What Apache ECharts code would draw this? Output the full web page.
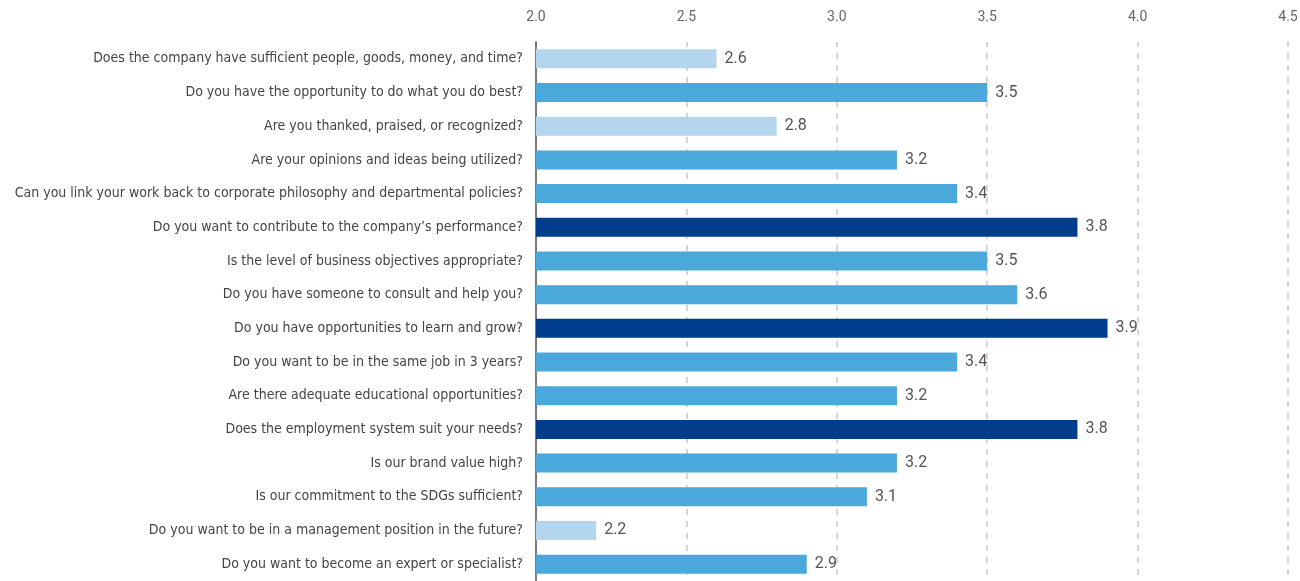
<!DOCTYPE html>
<html>
<head>
<meta charset="utf-8">
<script src="https://cdn.jsdelivr.net/npm/echarts@6/dist/echarts.min.js"></script>
<style>
  html, body { margin: 0; padding: 0; background: #fff; }
  #chart { width: 1300px; height: 581px; }
</style>
</head>
<body>
<div id="chart"></div>
<script>
// Survey questions, top to bottom
const questions = [
  "Does the company have sufficient people, goods, money, and time?",
  "Do you have the opportunity to do what you do best?",
  "Are you thanked, praised, or recognized?",
  "Are your opinions and ideas being utilized?",
  "Can you link your work back to corporate philosophy and departmental policies?",
  "Do you want to contribute to the company\u2019s performance?",
  "Is the level of business objectives appropriate?",
  "Do you have someone to consult and help you?",
  "Do you have opportunities to learn and grow?",
  "Do you want to be in the same job in 3 years?",
  "Are there adequate educational opportunities?",
  "Does the employment system suit your needs?",
  "Is our brand value high?",
  "Is our commitment to the SDGs sufficient?",
  "Do you want to be in a management position in the future?",
  "Do you want to become an expert or specialist?"
];

// Average score per question
const scores = [2.6, 3.5, 2.8, 3.2, 3.4, 3.8, 3.5, 3.6, 3.9, 3.4, 3.2, 3.8, 3.2, 3.1, 2.2, 2.9];

// Rating band per question: 0 = low, 1 = middle, 2 = high
const bands = [0, 1, 0, 1, 1, 2, 1, 1, 2, 1, 1, 2, 1, 1, 0, 1];

const bandColors = ["#b3d5ed", "#4aa8da", "#003d8c"];

const chart = echarts.init(document.getElementById("chart"), null, { renderer: "canvas" });

const narrowFont = "'DejaVu Sans Condensed', 'Liberation Sans Narrow', sans-serif";

chart.setOption({
  animation: false,
  grid: { left: 536, right: 12, top: 42, bottom: 0, outerBoundsMode: "none", containLabel: false },
  xAxis: {
    type: "value",
    position: "top",
    min: 2.0,
    max: 4.5,
    interval: 0.5,
    axisLine: { show: false },
    axisTick: { show: false },
    axisLabel: {
      margin: 18,
      color: "#666",
      fontSize: 14,
      fontFamily: "Roboto, sans-serif",
      formatter: v => v.toFixed(1)
    },
    splitLine: {
      show: true,
      lineStyle: { color: "#d6d6d6", type: [6, 6], dashOffset: 1, width: 2 }
    }
  },
  yAxis: {
    type: "category",
    inverse: true,
    data: questions,
    axisLine: { show: true, lineStyle: { color: "#555", width: 1.5 } },
    axisTick: { show: false },
    axisLabel: {
      margin: 13,
      color: "#444",
      fontSize: 14,
      fontFamily: narrowFont
    }
  },
  series: [{
    type: "bar",
    barWidth: 19,
    data: scores.map((v, i) => ({
      value: v,
      itemStyle: { color: bandColors[bands[i]] }
    })),
    label: {
      show: true,
      position: "right",
      distance: 8,
      color: "#555",
      fontSize: 16,
      fontFamily: "Roboto, sans-serif",
      formatter: p => p.value.toFixed(1)
    }
  }]
});
</script>
</body>
</html>
